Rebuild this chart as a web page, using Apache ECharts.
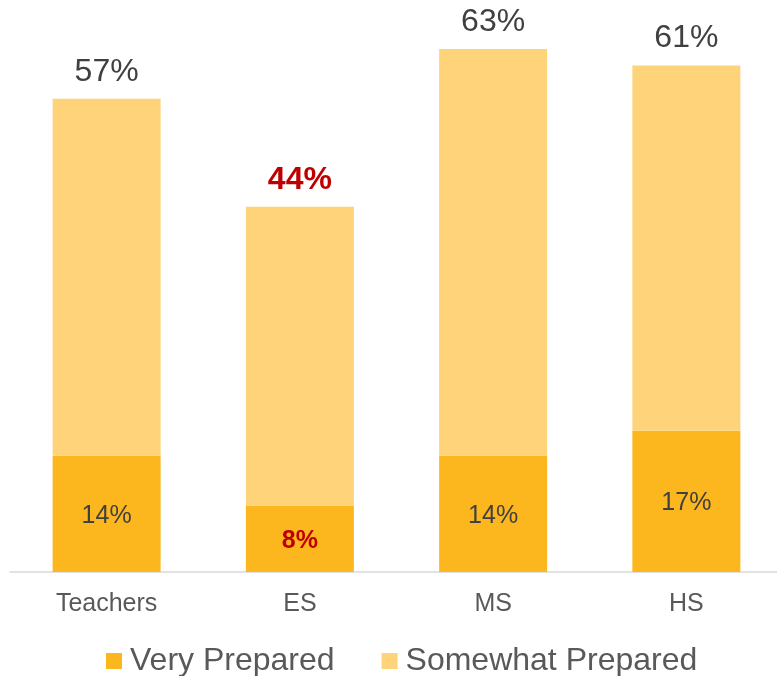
<!DOCTYPE html>
<html>
<head>
<meta charset="utf-8">
<script src="https://cdn.jsdelivr.net/npm/echarts@6/dist/echarts.min.js"></script>
<style>
html,body{margin:0;padding:0;background:#fff;overflow:hidden;}
#chart{width:783px;height:676px;}
</style>
</head>
<body>
<div id="chart"></div>
<script>
const categories = ['Teachers', 'ES', 'MS', 'HS'];
const veryPrepared = [14, 8, 14, 17];
const somewhatPrepared = [43, 36, 49, 44];
const totals = [57, 44, 63, 61];
const highlighted = 'ES';

const FONT = '"Liberation Sans", Arial, sans-serif';
const DARK = '#FDB71E';
const LIGHT = '#FED37A';
const RED = '#C00000';
const TEXT = '#404040';

const veryData = veryPrepared.map((v, i) => {
  const item = { value: v };
  if (categories[i] === highlighted) {
    item.label = { color: RED, fontWeight: 'bold' };
  }
  return item;
});
const somewhatData = somewhatPrepared.map((v, i) => {
  const item = { value: v };
  if (categories[i] === highlighted) {
    item.label = { color: RED, fontWeight: 'bold' };
  }
  return item;
});

const chart = echarts.init(document.getElementById('chart'), null, { renderer: 'canvas' });
chart.setOption({
  animation: false,
  backgroundColor: '#fff',
  textStyle: { fontFamily: FONT },
  grid: { left: 10, right: 0, top: 49, bottom: 104, containLabel: false },
  legend: {
    data: ['Very Prepared', 'Somewhat Prepared'],
    left: 106,
    top: 645,
    padding: 0,
    itemWidth: 16,
    itemHeight: 16,
    itemGap: 47,
    icon: 'rect',
    textStyle: { fontFamily: FONT, fontSize: 32, color: '#595959', padding: [0, 0, 0, 3] }
  },
  xAxis: {
    type: 'category',
    data: categories,
    axisLine: { lineStyle: { color: '#D9D9D9', width: 1.5 } },
    axisTick: { show: false },
    axisLabel: { fontFamily: FONT, fontSize: 25, color: '#595959', margin: 20 }
  },
  yAxis: {
    type: 'value',
    min: 0,
    max: 63,
    show: false,
    splitLine: { show: false }
  },
  series: [
    {
      name: 'Very Prepared',
      type: 'bar',
      stack: 'total',
      barWidth: 108,
      data: veryData,
      itemStyle: { color: DARK },
      label: {
        show: true,
        position: 'inside',
        offset: [0, 2],
        fontFamily: FONT,
        fontSize: 25,
        color: TEXT,
        formatter: p => p.value + '%'
      }
    },
    {
      name: 'Somewhat Prepared',
      type: 'bar',
      stack: 'total',
      barWidth: 108,
      data: somewhatData,
      itemStyle: { color: LIGHT },
      label: {
        show: true,
        position: 'top',
        distance: 11,
        fontFamily: FONT,
        fontSize: 32,
        color: TEXT,
        formatter: p => totals[p.dataIndex] + '%'
      }
    }
  ]
});
</script>
</body>
</html>
